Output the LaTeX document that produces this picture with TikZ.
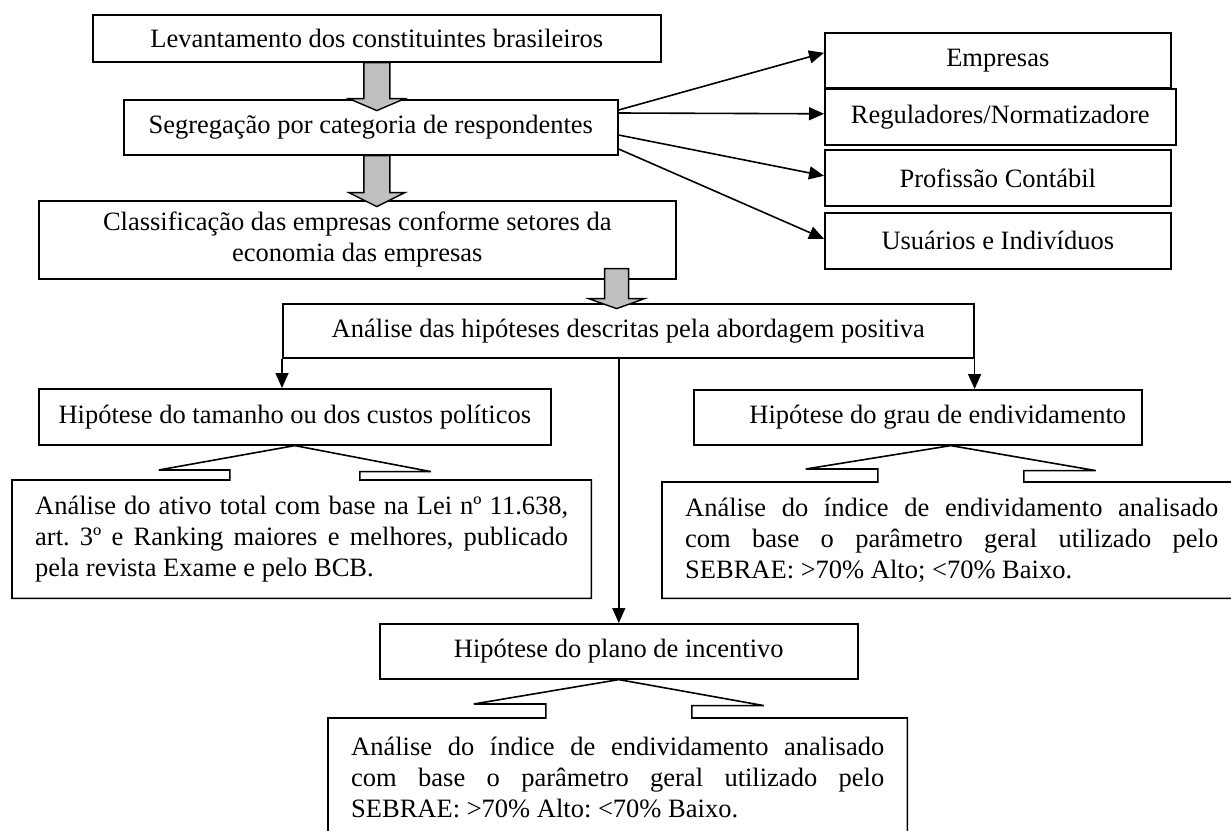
\documentclass[tikz,border=0pt]{standalone}
\usepackage{fontspec}
\setmainfont{Liberation Serif}
\frenchspacing
\usetikzlibrary{arrows.meta,positioning,calc}
\definecolor{blockgray}{HTML}{C0C0C0}
\tikzset{box/.style={draw,line width=1.6pt,align=center,font=\fontsize{26.5}{31}\selectfont,inner sep=0pt,anchor=north west}, note/.style={align=justify,text width=533pt,inner xsep=23pt,inner ysep=0pt,font=\fontsize{26.5}{31}\selectfont,anchor=north west,minimum height=118pt}, outline/.style={line width=1.6pt,line join=miter}, conn/.style={-{Triangle[length=15pt,width=13pt]},line width=1.6pt}, grayarr/.style={draw=black,fill=blockgray,line width=1.4pt,line join=miter}}

\begin{document}
\begin{tikzpicture}[x=1pt,y=-1pt]
\useasboundingbox (0,0) rectangle (1231,830);
% main chain
\node[box,minimum width=568pt,minimum height=47pt] (lev) at (92,14) {Levantamento dos constituintes brasileiros};
\node[box,minimum width=494pt,minimum height=55pt] (seg) at (123,99) {Segregação por categoria de respondentes};
\node[box,minimum width=637pt,minimum height=78pt] (cls) at (38,200) {Classificação das empresas conforme setores da\\economia das empresas};
% respondent categories
\node[box,minimum width=346pt,minimum height=55pt] (emp) at (824,32) {Empresas};
\node[box,minimum width=351pt,minimum height=56pt] (reg) at (824,88) {Reguladores/Normatizadore};
\node[box,minimum width=346pt,minimum height=56pt] (prof) at (824,149) {Profissão Contábil};
\node[box,minimum width=346pt,minimum height=56pt] (usu) at (824,212) {Usuários e Indivíduos};
% hypotheses
\node[box,minimum width=691pt,minimum height=54pt] (abp) at (282,303) {Análise das hipóteses descritas pela abordagem positiva};
\node[box,minimum width=512pt,minimum height=56pt] (hip1) at (38,388) {Hipótese do tamanho ou dos custos políticos};
\node[box,minimum width=448pt,minimum height=55pt] (hip2) at (693,389) {\hspace*{40pt}Hipótese do grau de endividamento};
\node[box,minimum width=478pt,minimum height=55pt] (hip3) at (379,623) {Hipótese do plano de incentivo};
\coordinate (tip2) at ($(hip2.south)+(33,0)$);
% analysis notes
\node[note] (ana1) at (12,480) {Análise do ativo total com base na Lei nº 11.638,\linebreak art. 3º e Ranking maiores e melhores, publicado\linebreak pela revista Exame e pelo BCB.};
\node[note,minimum height=116pt] (ana2) at (662,482) {Análise do índice de endividamento analisado\linebreak com base o parâmetro geral utilizado pelo\linebreak SEBRAE: >70\% Alto; <70\% Baixo.};
\node[note] (ana3) at (328,718) {Análise do índice de endividamento analisado\linebreak com base o parâmetro geral utilizado pelo\linebreak SEBRAE: >70\% Alto: <70\% Baixo.};
% callout outlines
\draw[outline] (ana1.north west) -- ($(hip1.south |- ana1.north)+(-65,0)$) -- ++(0,-10) -- ++(-71,0) -- (hip1.south) -- ++(136,26) -- ++(-71,0) -- ($(hip1.south |- ana1.north)+(65,0)$) -- (ana1.north east) -- (ana1.south east) -- (ana1.south west) -- cycle;
\draw[outline] (ana2.north west) -- ($(tip2 |- ana2.north)+(-73,0)$) -- ++(0,-13) -- ++(-72,0) -- (tip2) -- ++(145,25) -- ++(-72,0) -- ($(tip2 |- ana2.north)+(73,0)$) -- (ana2.north east) -- (ana2.south east) -- (ana2.south west) -- cycle;
\draw[outline] (ana3.north west) -- ($(hip3.south |- ana3.north)+(-73,0)$) -- ++(0,-14) -- ++(-72,0) -- (hip3.south) -- ++(145,26) -- ++(-72,0) -- ($(hip3.south |- ana3.north)+(73,0)$) -- (ana3.north east) -- (ana3.south east) -- (ana3.south west) -- cycle;
% block arrows
\draw[grayarr] ($(lev.south)+(-13,0)$) -- ++(0,36) -- ++(-15,0) -- ++(28,12) -- ++(28,-12) -- ++(-15,0) -- ++(0,-36) -- cycle;
\draw[grayarr] ($(seg.south)+(-7,0)$) -- ++(0,37) -- ++(-15,0) -- ++(28,14) -- ++(28,-14) -- ++(-15,0) -- ++(0,-37) -- cycle;
\draw[grayarr] ($(cls.south east)+(-72,-11)$) -- ++(0,30) -- ++(-16,0) -- ++(28,10) -- ++(28,-10) -- ++(-16,0) -- ++(0,-30) -- cycle;
% connectors
\draw[conn] ($(seg.north east)+(0,11)$) -- ($(emp.west)+(0,-7.5)$);
\draw[conn] ($(seg.north east)+(0,14)$) -- ($(reg.west)+(0,-3)$);
\draw[conn] ($(seg.north east)+(0,36)$) -- ($(prof.west)+(0,-2)$);
\draw[conn] ($(seg.north east)+(0,50)$) -- ($(usu.west)+(0,-2)$);
\draw[conn] (abp.south west) -- (abp.south west |- hip1.north);
\draw[conn] (abp.south east) -- (abp.south east |- hip2.north);
\draw[conn] (hip3.north |- abp.south) -- (hip3.north);
\end{tikzpicture}
\end{document}
